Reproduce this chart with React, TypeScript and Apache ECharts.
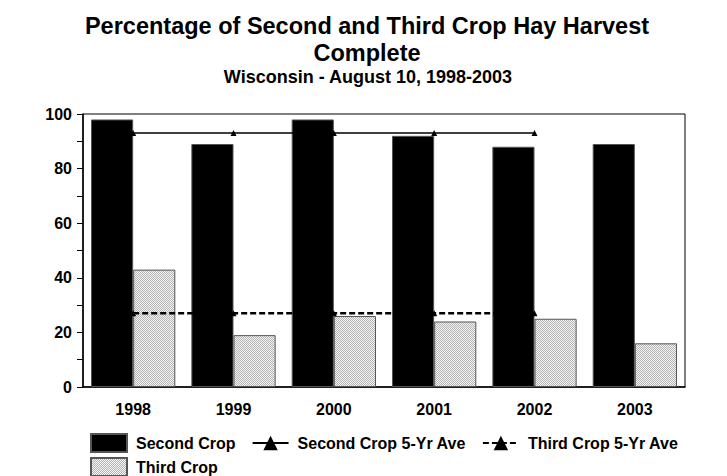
import React, { useEffect, useRef } from "react";
import * as echarts from "echarts";

const years = ["1998", "1999", "2000", "2001", "2002", "2003"];
const secondCrop = [98, 89, 98, 92, 88, 89];
const thirdCrop = [43, 19, 26, 24, 25, 16];
const secondAvg = [93, 93, 93, 93, 93, null];
const thirdAvg = [27, 27, 27, 27, 27, null];
const yTicks = { min: 0, max: 100, interval: 20 };

const FONT = "'Liberation Sans', Arial, sans-serif";

function makePattern(): HTMLCanvasElement {
  const c = document.createElement("canvas");
  c.width = 4;
  c.height = 4;
  const ctx = c.getContext("2d")!;
  ctx.fillStyle = "#f4f4f4";
  ctx.fillRect(0, 0, 4, 4);
  ctx.fillStyle = "#b4b4b4";
  for (let y = 0; y < 4; y++) {
    for (let x = 0; x < 4; x++) {
      if ((x + y) % 2 === 0) ctx.fillRect(x, y, 1, 1);
    }
  }
  return c;
}

export default function App() {
  const ref = useRef<HTMLDivElement>(null);
  useEffect(() => {
    if (!ref.current) return;
    const chart = echarts.init(ref.current, undefined, { renderer: "svg" });
    const pattern = { image: makePattern(), repeat: "repeat" } as any;
    const textBold = { fontFamily: FONT, fontWeight: "bold" as const, color: "#000" };
    const legendText = { ...textBold, fontSize: 16, padding: [0, 0, 0, 4] };
    chart.setOption({
      animation: false,
      backgroundColor: "#fff",
      title: [
        {
          text: "Percentage of Second and Third Crop Hay Harvest\nComplete",
          left: 367,
          textAlign: "center",
          top: 12,
          padding: 0,
          textStyle: { ...textBold, fontSize: 23.5, lineHeight: 27 },
        },
        {
          text: "Wisconsin - August 10, 1998-2003",
          left: 368,
          textAlign: "center",
          top: 68,
          padding: 0,
          textStyle: { ...textBold, fontSize: 18, lineHeight: 18 },
        },
      ],
      legend: [
        {
          data: [
            { name: "Second Crop", icon: "rect" },
            "Second Crop 5-Yr Ave",
            "Third Crop 5-Yr Ave",
          ],
          left: 90,
          top: 433,
          padding: 0,
          itemWidth: 36,
          itemHeight: 18,
          itemGap: 16,
          textStyle: legendText,
        },
        {
          data: [{ name: "Third Crop", icon: "rect" }],
          left: 90,
          top: 457,
          padding: 0,
          itemWidth: 36,
          itemHeight: 18,
          itemGap: 16,
          textStyle: legendText,
        },
      ],
      grid: {
        left: 83,
        right: 42,
        top: 114,
        bottom: 89,
        show: true,
        borderColor: "#000",
        borderWidth: 1,
        backgroundColor: "transparent",
      },
      xAxis: {
        type: "category",
        data: years,
        axisLine: { lineStyle: { color: "#000", width: 1.5 } },
        axisTick: { show: false },
        axisLabel: { ...textBold, fontSize: 16, margin: 14 },
      },
      yAxis: {
        type: "value",
        min: yTicks.min,
        max: yTicks.max,
        interval: yTicks.interval,
        axisLine: { show: true, lineStyle: { color: "#000", width: 1.5 } },
        axisTick: { show: true, length: 6, lineStyle: { color: "#000" } },
        minorTick: { show: true, splitNumber: 2, length: 6, lineStyle: { color: "#000" } },
        splitLine: { show: false },
        axisLabel: { ...textBold, fontSize: 16, margin: 11 },
      },
      series: [
        {
          name: "Second Crop",
          type: "bar",
          data: secondCrop,
          barGap: "0%",
          barCategoryGap: "16%",
          itemStyle: { color: "#000", borderColor: "#555", borderWidth: 1 },
        },
        {
          name: "Third Crop",
          type: "bar",
          data: thirdCrop,
          itemStyle: { color: pattern, borderColor: "#555", borderWidth: 1 },
        },
        {
          name: "Second Crop 5-Yr Ave",
          type: "line",
          data: secondAvg,
          symbol: "triangle",
          symbolSize: 6,
          lineStyle: { color: "#000", width: 1.5 },
          itemStyle: { color: "#000" },
          z: 5,
        },
        {
          name: "Third Crop 5-Yr Ave",
          type: "line",
          data: thirdAvg,
          symbol: "triangle",
          symbolSize: 6,
          lineStyle: { color: "#000", width: 2.5, type: [6, 3] },
          itemStyle: { color: "#000" },
          z: 5,
        },
      ],
    });
    return () => chart.dispose();
  }, []);
  return (
    <div
      ref={ref}
      style={{ position: "absolute", left: 0, top: 0, width: 727, height: 476 }}
    />
  );
}
